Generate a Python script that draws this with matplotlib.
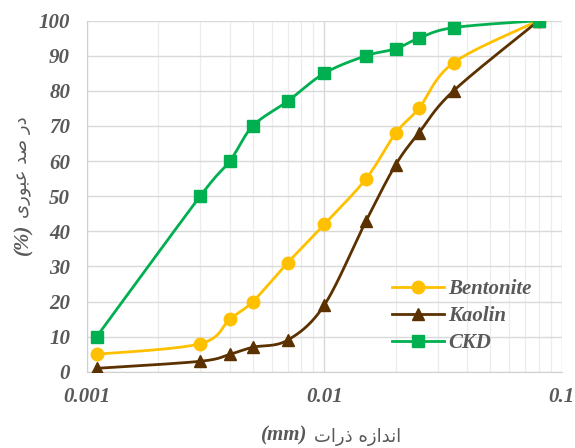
import numpy as np
import matplotlib
matplotlib.use("Agg")
import matplotlib.pyplot as plt
from matplotlib.ticker import FixedLocator, LogLocator, NullFormatter

# ---- data ----
size_mm = [0.0011, 0.003, 0.004, 0.005, 0.007, 0.01, 0.015, 0.02, 0.025, 0.035, 0.08]
bentonite = [5, 8, 15, 20, 31, 42, 55, 68, 75, 88, 100]
kaolin = [1, 3, 5, 7, 9, 19, 43, 59, 68, 80, 100]
ckd = [10, 50, 60, 70, 77, 85, 90, 92, 95, 98, 100]
series_names = ["Bentonite", "Kaolin", "CKD"]
x_ticks = [0.001, 0.01, 0.1]
x_ticklabels = ["0.001", "0.01", "0.1"]
y_ticks = list(range(0, 101, 10))

# Persian labels, pre-shaped (presentation forms) in visual left-to-right order
ylabel_fa = "\uFEEF\uFEAD\uFEEE\uFE92\uFECB \uFEAA\uFEBB \uFEAD\uFEA9"   # در صد عبوری
xlabel_fa = "\uFE95\uFE8D\uFEAD\uFEAB \uFEE9\uFEAF\uFE8D\uFEAA\uFEE7\uFE8D"  # اندازه ذرات

colors = ["#FFC000", "#5C3100", "#00B050"]
markers = ["o", "^", "s"]

GRAY = "#595959"
serif = ["Liberation Serif", "DejaVu Serif"]
FS = 15

fig = plt.figure(figsize=(5.75, 4.48), dpi=100)
ax = fig.add_axes([0.151, 0.170, 0.826, 0.784])


def smooth(xs, ys, n=30):
    # Catmull-Rom style Bezier smoothing in (log x, y) display-like space
    sx, sy = 238.0, 3.51
    P = np.column_stack([np.log10(xs) * sx, np.array(ys, float) * sy])
    out = []
    for i in range(len(P) - 1):
        p0 = P[i - 1] if i > 0 else P[i]
        p1 = P[i]
        p2 = P[i + 1]
        p3 = P[i + 2] if i + 2 < len(P) else P[i + 1]
        c1 = p1 + (p2 - p0) / 6.0
        c2 = p2 - (p3 - p1) / 6.0
        t = np.linspace(0, 1, n)[:, None]
        seg = ((1 - t) ** 3) * p1 + 3 * ((1 - t) ** 2) * t * c1 + 3 * (1 - t) * t ** 2 * c2 + t ** 3 * p2
        out.append(seg if i == 0 else seg[1:])
    Q = np.vstack(out)
    return 10 ** (Q[:, 0] / sx), Q[:, 1] / sy


for name, ys, c, m in zip(series_names, [bentonite, kaolin, ckd], colors, markers):
    sxv, syv = smooth(size_mm, ys)
    ax.plot(sxv, syv, color=c, lw=2.0, zorder=3)
    ax.plot(size_mm, ys, linestyle="none", marker=m, color=c, markersize=9, zorder=4)
    ax.plot([], [], color=c, lw=2.0, marker=m, markersize=9, label=name)

ax.set_xscale("log")
ax.set_xlim(0.001, 0.1)
ax.set_ylim(0, 100)
ax.xaxis.set_major_locator(FixedLocator(x_ticks))
ax.set_xticklabels(x_ticklabels)
ax.xaxis.set_minor_locator(LogLocator(base=10, subs=np.arange(2, 10)))
ax.xaxis.set_minor_formatter(NullFormatter())
ax.set_yticks(y_ticks)

ax.grid(True, which="major", color="#d9d9d9", lw=1.0, zorder=0)
ax.grid(True, which="minor", axis="x", color="#ececec", lw=0.9, zorder=0)
ax.set_axisbelow(True)
for s in ["top", "right"]:
    ax.spines[s].set_visible(False)
ax.spines["left"].set_color("#d0d0d0")
ax.spines["bottom"].set_color("#d0d0d0")

ax.tick_params(which="both", length=0)
ax.tick_params(axis="x", pad=11)
ax.tick_params(axis="y", pad=12)
for lab in ax.get_xticklabels() + ax.get_yticklabels():
    lab.set_fontfamily(serif)
    lab.set_fontweight("bold")
    lab.set_fontstyle("italic")
    lab.set_fontsize(FS)
    lab.set_color(GRAY)

leg = ax.legend(loc="center left", bbox_to_anchor=(0.642, 0.159), frameon=False,
                borderpad=0, borderaxespad=0,
                handlelength=2.5, handletextpad=0.2, labelspacing=0.33,
                prop=dict(family=serif, weight="bold", style="italic", size=FS))
for t in leg.get_texts():
    t.set_color(GRAY)

# y label: Persian + (%)
ty = fig.text(0.040, 0.627, ylabel_fa, rotation=90, ha="center", va="center",
              family="DejaVu Sans", fontsize=13, color=GRAY)
ax.annotate("(%)", xy=(0.5, 0.0), xycoords=ty, xytext=(0, -4), textcoords="offset points",
            rotation=90, ha="center", va="top", family=serif, weight="bold",
            style="italic", fontsize=FS, color=GRAY, annotation_clip=False)

# x label: Persian + (mm)
tx = fig.text(0.621, 0.014, xlabel_fa, ha="center", va="baseline",
              family="DejaVu Sans", fontsize=13, color=GRAY)
ax.annotate("(mm)", xy=(0.0, 0.0), xycoords=tx, xytext=(-4, 0), textcoords="offset points",
            ha="right", va="bottom", family=serif, weight="bold",
            style="italic", fontsize=FS, color=GRAY, annotation_clip=False)

fig.savefig("out.png", dpi=100)
